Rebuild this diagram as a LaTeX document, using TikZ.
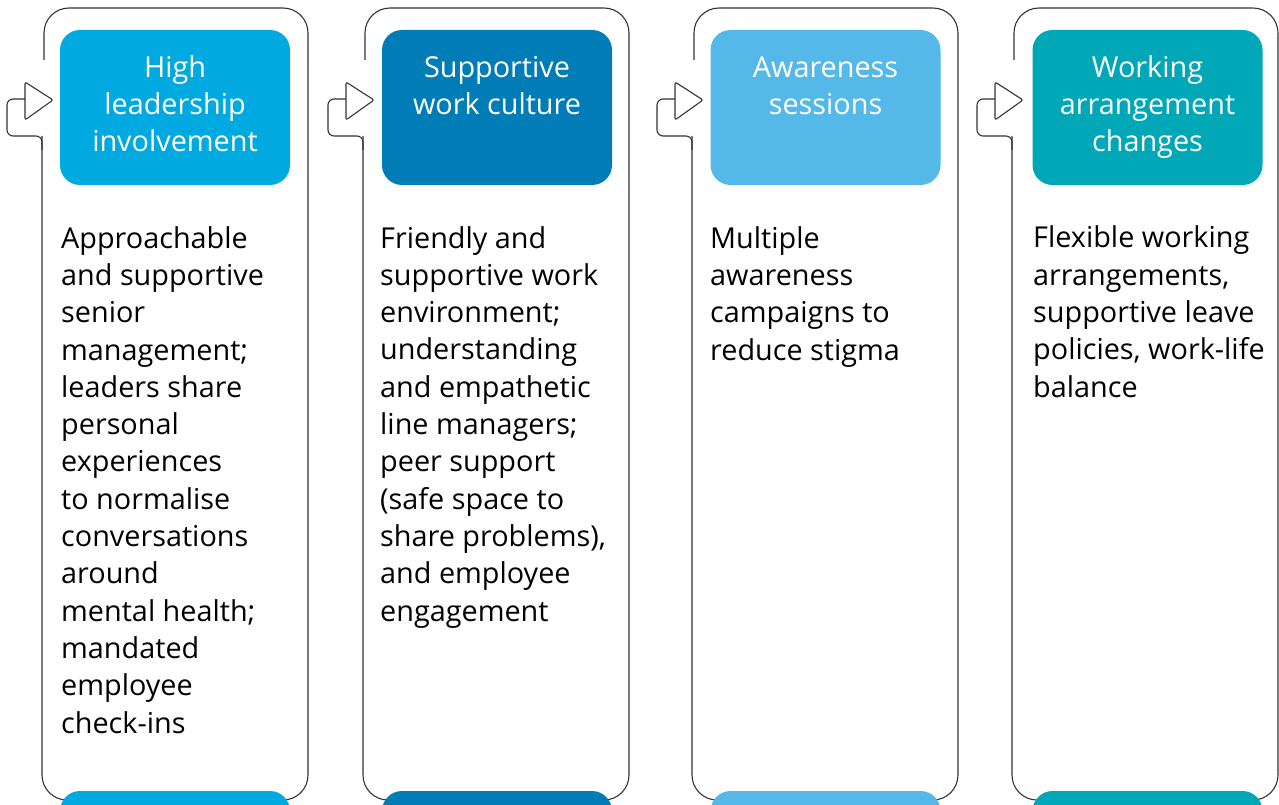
\documentclass[tikz,border=0pt]{standalone}
\usepackage{fontspec}
\setmainfont{Open Sans}
\definecolor{hdone}{RGB}{0,169,224}
\definecolor{hdtwo}{RGB}{0,125,183}
\definecolor{hdthree}{RGB}{84,185,232}
\definecolor{hdfour}{RGB}{0,167,183}
\tikzset{
  frame/.style={draw=black!80, line width=1.1pt},
  headbox/.style={rounded corners=20, minimum width=230, minimum height=155, inner sep=0},
  headtext/.style={anchor=base, align=center, inner sep=0, text=white, font=\fontsize{28.8}{37}\selectfont},
  bodytext/.style={anchor=base west, align=left, inner sep=0, font=\fontsize{28.8}{37.3}\selectfont}
}
\begin{document}
\begin{tikzpicture}[x=1pt,y=-1pt]
\useasboundingbox (0,0) rectangle (1279,805);
%\draw[help lines] (0,0) grid[step=100] (1279,805);
\foreach \L in {42,363,692,1012} {
  \draw[frame, rounded corners=25] (\L+2,60) -- (\L+2,8) -- (\L+266,8) -- (\L+266,800) -- (\L,800) -- (\L,136);
  \draw[frame, rounded corners=6] (\L,150) -- (\L,136) -- (\L-35,136) -- (\L-35,99) -- (\L-17,99);
  \draw[frame, rounded corners=2] (\L-17,82) -- (\L+11,100) -- (\L-17,120) -- cycle;
}
% header boxes
\node[headbox, fill=hdone] (box1) at (175,107.5) {};
\node[headbox, fill=hdtwo] (box2) at (497,107.5) {};
\node[headbox, fill=hdthree] (box3) at (825.5,107.5) {};
\node[headbox, fill=hdfour] (box4) at (1147.5,107.5) {};
% base anchor = last line
\node[headtext] (head1) at (175,152) {High\\leadership\\involvement};
\node[headtext] (head2) at (497,115) {Supportive\\work culture};
\node[headtext] (head3) at (825.5,115) {Awareness\\sessions};
\node[headtext] (head4) at (1147.5,152) {Working\\arrangement\\changes};
% bottom bars
\node[headbox, fill=hdone, minimum height=60] (bar1) at (175,821) {};
\node[headbox, fill=hdtwo, minimum height=60] (bar2) at (497,821) {};
\node[headbox, fill=hdthree, minimum height=60] (bar3) at (825.5,821) {};
\node[headbox, fill=hdfour, minimum height=60] (bar4) at (1147.5,821) {};
% body text
\node[bodytext] (text1) at (61,733) {Approachable\\and supportive\\senior\\management;\\leaders share\\personal\\experiences\\to normalise\\conversations\\around\\mental health;\\mandated\\employee\\check-ins};
\node[bodytext] (text2) at (380,621) {Friendly and\\supportive work\\environment;\\understanding\\and empathetic\\line managers;\\peer support\\(safe space to\\share problems),\\and employee\\engagement};
\node[bodytext] (text3) at (710,360) {Multiple\\awareness\\campaigns to\\reduce stigma};
\node[bodytext] (text4) at (1033,397) {Flexible working\\arrangements,\\supportive leave\\policies, work-life\\balance};
\end{tikzpicture}
\end{document}
